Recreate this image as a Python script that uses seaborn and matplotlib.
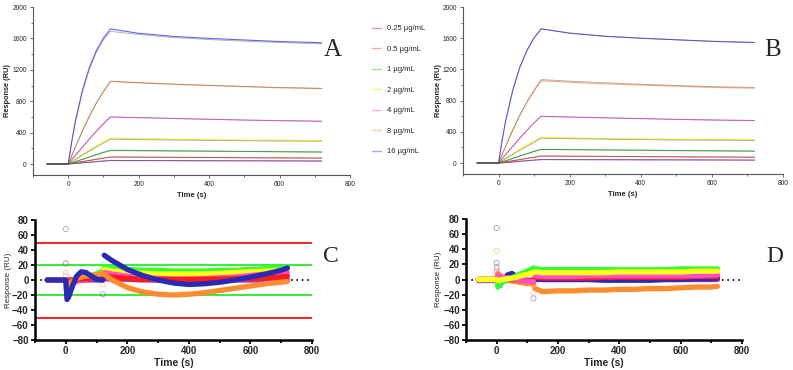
import numpy as np
import pandas as pd
import matplotlib
matplotlib.use("Agg")
import matplotlib.pyplot as plt
from matplotlib.ticker import MultipleLocator
import seaborn as sns

# ---- data ----
concs = ["0.25 µg/mL", "0.5 µg/mL", "1 µg/mL", "2 µg/mL", "4 µg/mL", "8 µg/mL", "16 µg/mL"]
line_colors = ["#a03cb4", "#ff4a4a", "#2ec42e", "#ecec00", "#ff5cf0", "#ff9a5a", "#4848f0"]
resid_colors = ["#9933cc", "#ff1a1a", "#33ff33", "#ffff1a", "#ff4fc8", "#ff8c2e", "#2a2ab4"]

# sensorgrams (panels A and B)
t_sens = [-60, 0, 10, 20, 40, 60, 80, 100, 120, 200, 300, 400, 500, 600, 720]
resp_025 = [0, 0, 4, 8, 15, 23, 30, 38, 45, 44, 43, 42, 41, 40, 38]
resp_05 = [0, 0, 8, 15, 30, 45, 60, 75, 90, 88, 85, 83, 80, 78, 75]
resp_1 = [0, 0, 15, 30, 60, 90, 120, 150, 175, 172, 168, 165, 160, 157, 153]
resp_2 = [0, 0, 30, 60, 118, 175, 228, 280, 330, 322, 315, 310, 305, 302, 300]
resp_4 = [0, 0, 56, 110, 215, 320, 420, 515, 600, 590, 580, 570, 560, 552, 545]
resp_8 = [0, 0, 110, 215, 420, 610, 780, 925, 1055, 1035, 1015, 1000, 985, 970, 960]
resp_16 = [0, 0, 290, 540, 935, 1230, 1445, 1605, 1720, 1665, 1625, 1600, 1580, 1560, 1545]

# fitted curves (grey) for panel A and panel B
fit_a = [
    [0, 0, 4, 8, 15, 23, 30, 38, 44, 43, 42, 41, 40, 39, 38],
    [0, 0, 8, 15, 30, 45, 60, 74, 88, 87, 85, 82, 80, 78, 76],
    [0, 0, 15, 29, 58, 87, 116, 145, 170, 168, 165, 162, 159, 156, 152],
    [0, 0, 29, 57, 112, 165, 215, 265, 315, 310, 305, 300, 296, 292, 290],
    [0, 0, 55, 108, 212, 315, 415, 510, 598, 590, 580, 570, 560, 552, 545],
    [0, 0, 108, 212, 415, 605, 775, 920, 1050, 1035, 1018, 1003, 988, 975, 965],
    [0, 0, 278, 520, 910, 1205, 1425, 1580, 1690, 1650, 1610, 1585, 1565, 1548, 1530],
]
fit_b = [
    [0, 0, 4, 8, 15, 23, 30, 38, 45, 44, 43, 42, 41, 40, 38],
    [0, 0, 8, 15, 30, 45, 60, 75, 90, 88, 85, 83, 80, 78, 75],
    [0, 0, 15, 30, 60, 90, 120, 150, 175, 172, 168, 165, 160, 157, 153],
    [0, 0, 29, 57, 112, 165, 215, 265, 318, 312, 305, 300, 295, 292, 290],
    [0, 0, 56, 110, 215, 320, 420, 515, 600, 590, 580, 570, 560, 552, 545],
    [0, 0, 110, 215, 425, 620, 790, 935, 1070, 1050, 1030, 1010, 995, 980, 970],
    [0, 0, 290, 540, 935, 1230, 1445, 1605, 1720, 1665, 1625, 1600, 1580, 1560, 1545],
]

# residuals (panels C and D): association and dissociation segments
t_res_on = [-60, 0, 4, 10, 20, 35, 50, 65, 80, 100, 120]
t_res_off = [125, 150, 200, 250, 300, 350, 400, 450, 500, 550, 600, 650, 700, 720]

res_c_on = [
    [0, 0, -1, 0, 0, 0, 0, 0, 0, 0, 0],
    [0, 0, -2, -1, 0, 1, 1, 2, 2, 3, 4],
    [0, 0, -12, -8, -4, 0, 2, 4, 6, 8, 12],
    [0, 0, -8, -6, -3, 0, 2, 4, 5, 6, 8],
    [0, 0, -5, -4, -3, -2, 0, 1, 2, 3, 5],
    [0, 0, -8, -6, -2, 2, 4, 5, 6, 7, 8],
    [0, 0, -26, -22, -10, 5, 11, 10, 6, 1, 0],
]
res_c_off = [
    [2, 1, 1, 0, 0, 0, 0, 0, 0, 0, 0, 0, 0, 0],
    [6, 4, 2, 1, 1, 1, 1, 1, 1, 2, 2, 3, 4, 5],
    [18, 16, 14, 13, 13, 12, 12, 12, 13, 13, 14, 15, 16, 17],
    [14, 12, 10, 9, 8, 8, 8, 8, 9, 10, 11, 12, 13, 14],
    [10, 8, 5, 3, 2, 1, 1, 2, 3, 4, 6, 8, 9, 10],
    [8, 0, -10, -16, -19, -20, -19, -17, -14, -11, -8, -5, -3, -2],
    [33, 26, 14, 6, 0, -4, -6, -5, -3, 0, 4, 8, 13, 16],
]
res_d_on = [
    [0, 0, 0, 0, 0, 0, 0, 0, 0, 0, 0],
    [0, 0, 2, 2, 1, 1, 0, 0, 0, -1, -1],
    [0, 0, -10, -7, -3, 0, 2, 5, 8, 11, 15],
    [0, 0, -1, -1, 0, 1, 2, 3, 5, 7, 9],
    [0, 0, 5, 4, 3, 2, 1, 0, -1, -2, -3],
    [0, 0, 8, 6, 3, 0, -2, -3, -4, -5, -6],
    [0, 0, -5, -8, -2, 6, 8, 4, -2, -5, -3],
]
res_d_off = [
    [1, 1, 1, 1, 1, 1, 1, 1, 1, 1, 1, 1, 1, 1],
    [3, 2, 2, 2, 2, 3, 3, 3, 3, 3, 3, 4, 4, 4],
    [14, 13, 13, 13, 13, 13, 13, 13, 13, 13, 14, 14, 14, 14],
    [10, 9, 9, 9, 9, 9, 10, 10, 10, 10, 10, 11, 11, 11],
    [5, 4, 4, 4, 5, 5, 5, 5, 5, 5, 5, 5, 6, 6],
    [-12, -16, -15, -15, -14, -14, -13, -13, -12, -12, -11, -10, -10, -9],
    [1, 0, 0, 0, 0, -1, -1, -1, -1, 0, 0, 1, 1, 2],
]

# stray open circles at injection start / end
out_c_t = [0, 0, 120, 0, 0, 120, 120, 120, 0, 120, 0, 0, 120]
out_c_y = [68, 22, -19, 22, 10, -6, 3, 20, -10, 16, -6, 5, 10]
out_c_i = [6, 6, 6, 5, 5, 5, 5, 2, 2, 3, 3, 4, 4]
out_d_t = [0, 0, 0, 120, 0, 0, 120, 120, 0, 120, 120]
out_d_y = [68, 22, 16, -25, 38, 12, -18, -8, 10, 15, 12]
out_d_i = [6, 6, 6, 6, 5, 5, 5, 5, 4, 2, 3]


def long_df(t, series, seg=0):
    rows = []
    for c, vals in zip(concs, series):
        for ti, v in zip(t, vals):
            rows.append((ti, v, c, seg))
    return pd.DataFrame(rows, columns=["time", "resp", "conc", "seg"])


sns.set_style("ticks")
plt.rcParams["font.family"] = ["Liberation Sans", "DejaVu Sans"]

W, H = 793, 370
fig = plt.figure(figsize=(W / 100, H / 100), dpi=100)


def rect(x0, y0, x1, y1):
    return [x0 / W, 1 - y1 / H, (x1 - x0) / W, (y1 - y0) / H]


pal_line = dict(zip(concs, line_colors))
pal_res = dict(zip(concs, resid_colors))
data_sens = long_df(t_sens, [resp_025, resp_05, resp_1, resp_2, resp_4, resp_8, resp_16])

# ---- panels A and B ----
for r, fits, letter, lx, ylx in [(rect(33, 7, 350, 175), fit_a, "A", 333, -0.069),
                                 (rect(463, 7, 783, 174), fit_b, "B", 773, -0.066)]:
    ax = fig.add_axes(r)
    sns.lineplot(data=data_sens, x="time", y="resp", hue="conc", palette=pal_line,
                 estimator=None, sort=False, lw=0.8, alpha=0.85, legend=False, ax=ax)
    fdf = long_df(t_sens, fits)
    sns.lineplot(data=fdf, x="time", y="resp", units="conc", color="#555555",
                 estimator=None, sort=False, lw=0.6, alpha=0.5, legend=False, ax=ax)
    ax.set_xlim(-100, 800)
    ax.set_ylim(-140, 2000)
    ax.set_xticks([0, 200, 400, 600, 800])
    ax.set_yticks([0, 400, 800, 1200, 1600, 2000])
    ax.yaxis.set_minor_locator(MultipleLocator(200))
    ax.xaxis.set_minor_locator(MultipleLocator(100))
    for s in ["top", "right"]:
        ax.spines[s].set_visible(False)
    for s in ["left", "bottom"]:
        ax.spines[s].set_color("#555555")
        ax.spines[s].set_linewidth(0.8)
    ax.tick_params(which="both", labelsize=4.8, length=2.5, width=0.6, color="#555555", pad=2)
    ax.tick_params(which="minor", length=1.5)
    ax.set_xlabel("Time (s)", fontsize=5.5, fontweight="bold")
    ax.set_ylabel("Response (RU)", fontsize=5.3, fontweight="bold")
    ax.xaxis.set_label_coords(0.5, -0.101)
    ax.yaxis.set_label_coords(ylx, 0.5)
    fig.text(lx / W, 1 - 50 / H, letter, family="Liberation Serif", fontsize=18,
             ha="center", va="center")

handles = [plt.Line2D([], [], color=c, lw=1, alpha=0.5) for c in line_colors]
fig.legend(handles, concs, loc="upper left", bbox_to_anchor=(372 / W, 1 - 25 / H),
           frameon=False, fontsize=5.5, labelspacing=1.72, handlelength=1.2,
           handletextpad=0.8, borderpad=0, borderaxespad=0)

# ---- panels C and D ----
order_c = [concs[i] for i in [0, 2, 3, 4, 1, 5, 6]]
order_d = [concs[i] for i in [0, 6, 5, 1, 4, 2, 3]]
for r, on, off, ot, oy, oi, guides, order, letter, lx, ylx in [
        (rect(35, 220, 312, 340), res_c_on, res_c_off, out_c_t, out_c_y, out_c_i, True,
         order_c, "C", 331, -0.084),
        (rect(466, 219, 742, 340), res_d_on, res_d_off, out_d_t, out_d_y, out_d_i, False,
         order_d, "D", 775, -0.087)]:
    ax = fig.add_axes(r)
    if guides:
        for yv, col in [(50, "#ff2020"), (-50, "#ff2020"), (20, "#33ee33"), (-20, "#33ee33")]:
            ax.axhline(yv, color=col, lw=1.4, zorder=1)
    ax.axhline(0, color="black", lw=1.2, ls=(0, (1, 2.2)), zorder=1)
    rdf = pd.concat([long_df(t_res_on, on, 0), long_df(t_res_off, off, 1)])
    rdf["unit"] = rdf["conc"] + rdf["seg"].astype(str)
    sns.lineplot(data=rdf, x="time", y="resp", hue="conc", hue_order=order,
                 palette=pal_res, units="unit", estimator=None, sort=False,
                 lw=3.8, legend=False, ax=ax, solid_capstyle="round", zorder=3)
    ax.scatter(ot, oy, s=14, facecolors="none",
               edgecolors=[resid_colors[i] for i in oi], lw=0.6, alpha=0.45, zorder=2)
    ax.set_xlim(-100, 800)
    ax.set_ylim(-80, 80)
    ax.set_xticks([0, 200, 400, 600, 800])
    ax.set_yticks(range(-80, 81, 20))
    ax.xaxis.set_minor_locator(MultipleLocator(100))
    for s in ["top", "right"]:
        ax.spines[s].set_visible(False)
    for s in ["left", "bottom"]:
        ax.spines[s].set_color("black")
        ax.spines[s].set_linewidth(1.8)
    ax.tick_params(which="both", labelsize=7, length=3, width=1.3, color="black", pad=1.5)
    ax.tick_params(which="minor", length=2)
    for lab in ax.get_xticklabels() + ax.get_yticklabels():
        lab.set_fontweight("bold")
    ax.set_xlabel("Time (s)", fontsize=7.5, fontweight="bold")
    ax.set_ylabel("Response (RU)", fontsize=5.8)
    ax.xaxis.set_label_coords(0.5, -0.15)
    ax.yaxis.set_label_coords(ylx, 0.5)
    fig.text(lx / W, 1 - 257 / H, letter, family="Liberation Serif", fontsize=17,
             ha="center", va="center")

fig.savefig("out.png", dpi=100)
